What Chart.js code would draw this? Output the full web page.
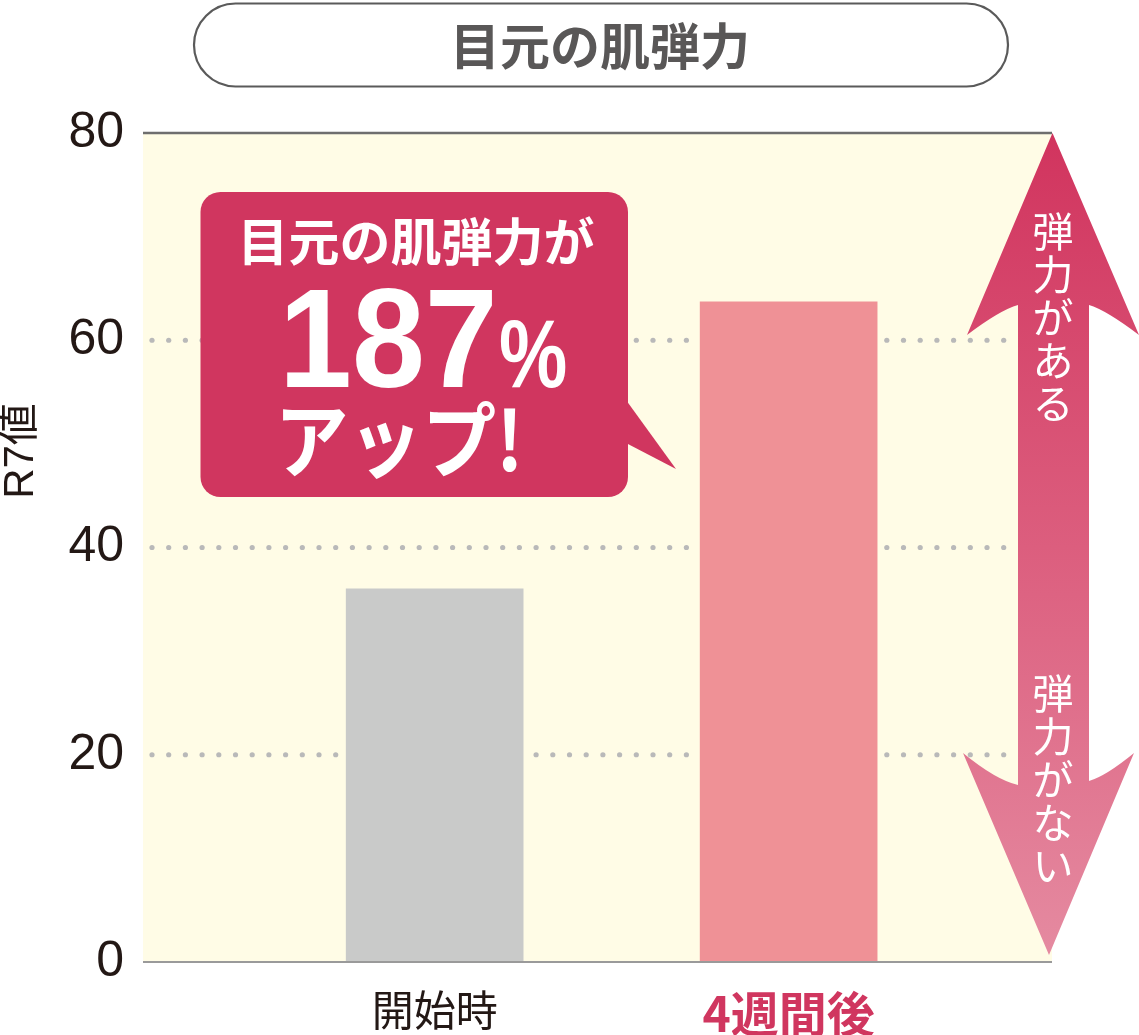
<!DOCTYPE html>
<html lang="ja">
<head>
<meta charset="utf-8">
<title>目元の肌弾力</title>
<script src="https://cdn.jsdelivr.net/npm/chart.js@4.4.1/dist/chart.umd.min.js"></script>
<style>
    html, body { margin: 0; padding: 0; background: #fff; }
    #wrap { width: 1139px; height: 1035px; }
</style>
</head>
<body>
<div id="wrap"><canvas id="elasticityChart" width="1139" height="1035"></canvas></div>
<script>
// chart data
var categories = ['開始時', '4週間後'];
var categoryPos = [1, 2];
var r7Values = [36, 63.7];
var yTicks = [0, 20, 40, 60, 80];
var chartTitle = '目元の肌弾力';
var yAxisTitle = 'R7値';
var calloutText = ['目元の肌弾力が', '187', '%', 'アップ!'];
var arrowUpText = '弾力がある';
var arrowDownText = '弾力がない';

var JP = '"Noto Sans CJK JP", sans-serif';
var NUM = '"Liberation Sans", "Noto Sans CJK JP", sans-serif';
var CRIMSON = '#d0365f';

function drawVertical(ctx, text, x, y0, step) {
    for (var i = 0; i < text.length; i++) {
        ctx.fillText(text[i], x, y0 + i * step);
    }
}

var decor = {
    id: 'decor',
    beforeDatasetsDraw: function (chart) {
        var ctx = chart.ctx;
        var a = chart.chartArea;
        var y = chart.scales.y;
        ctx.save();
        ctx.fillStyle = '#fffce6';
        ctx.fillRect(a.left, a.top, a.right - a.left, a.bottom - a.top);

        // dotted grid
        ctx.fillStyle = '#b9b9b9';
        yTicks.forEach(function (t) {
            if (t === yTicks[0] || t === yTicks[yTicks.length - 1]) return;
            var py = y.getPixelForValue(t);
            for (var px = a.left + 9; px < a.right - 36; px += 16.7) {
                ctx.beginPath();
                ctx.arc(px, py, 2.6, 0, Math.PI * 2);
                ctx.fill();
            }
        });

        ctx.strokeStyle = '#6e6e6e';
        ctx.lineWidth = 2.5;
        ctx.beginPath();
        ctx.moveTo(a.left, y.getPixelForValue(80));
        ctx.lineTo(a.right, y.getPixelForValue(80));
        ctx.stroke();
        ctx.restore();
    },
    afterDatasetsDraw: function (chart) {
        var ctx = chart.ctx;
        var a = chart.chartArea;
        var y = chart.scales.y;
        ctx.save();

        // baseline
        ctx.strokeStyle = '#9a9a9a';
        ctx.lineWidth = 2;
        ctx.beginPath();
        ctx.moveTo(a.left, y.getPixelForValue(0));
        ctx.lineTo(a.right, y.getPixelForValue(0));
        ctx.stroke();

        // callout bubble
        ctx.fillStyle = CRIMSON;
        ctx.beginPath();
        ctx.roundRect(200.5, 192, 427.5, 305, 20);
        ctx.fill();
        ctx.beginPath();
        ctx.moveTo(626, 400);
        ctx.lineTo(676, 469);
        ctx.lineTo(626, 443);
        ctx.closePath();
        ctx.fill();

        ctx.fillStyle = '#fff';
        ctx.textAlign = 'center';
        ctx.textBaseline = 'middle';
        ctx.font = 'bold 51px ' + JP;
        ctx.fillText(calloutText[0], 416, 242);

        ctx.textAlign = 'left';
        ctx.textBaseline = 'alphabetic';
        ctx.save();
        ctx.translate(279, 387);
        ctx.scale(0.93, 1);
        ctx.font = 'bold 141px ' + NUM;
        ctx.fillText(calloutText[1], 0, 0);
        ctx.restore();
        ctx.save();
        ctx.translate(499, 387);
        ctx.scale(0.8, 1);
        ctx.font = 'bold 96px ' + NUM;
        ctx.fillText(calloutText[2], 0, 0);
        ctx.restore();

        ctx.save();
        ctx.translate(399, 440);
        ctx.scale(0.9, 1);
        ctx.textAlign = 'center';
        ctx.textBaseline = 'middle';
        ctx.font = 'bold 82px ' + JP;
        ctx.fillText(calloutText[3], 0, 0);
        ctx.restore();

        // double arrow
        var g = ctx.createLinearGradient(0, a.top, 0, a.bottom);
        g.addColorStop(0, '#d1345e');
        g.addColorStop(0.5, '#dc5e7e');
        g.addColorStop(1, '#e58ba1');
        ctx.fillStyle = g;
        ctx.beginPath();
        ctx.moveTo(1052.5, a.top);
        ctx.lineTo(1139, 335);
        ctx.quadraticCurveTo(1106, 310, 1089, 305);
        ctx.lineTo(1089, 781);
        ctx.quadraticCurveTo(1106, 776, 1134, 753);
        ctx.lineTo(1049, 955);
        ctx.lineTo(963, 753);
        ctx.quadraticCurveTo(996, 780, 1018, 785);
        ctx.lineTo(1018, 305);
        ctx.quadraticCurveTo(1000, 310, 967, 335);
        ctx.closePath();
        ctx.fill();

        ctx.fillStyle = '#fff';
        ctx.textAlign = 'center';
        ctx.textBaseline = 'middle';
        ctx.font = '41px ' + JP;
        drawVertical(ctx, arrowUpText, 1053, 231, 43);
        drawVertical(ctx, arrowDownText, 1053, 693, 43);

        // title pill
        ctx.fillStyle = '#fff';
        ctx.strokeStyle = '#5a5a5a';
        ctx.lineWidth = 2.2;
        ctx.beginPath();
        ctx.roundRect(194, 3.5, 814, 83, 41.5);
        ctx.fill();
        ctx.stroke();
        ctx.fillStyle = '#595757';
        ctx.font = 'bold 50px ' + JP;
        ctx.fillText(chartTitle, 600, 46);

        // y axis title
        ctx.translate(21, 451);
        ctx.rotate(-Math.PI / 2);
        ctx.fillStyle = '#231815';
        ctx.font = '42px ' + NUM;
        ctx.fillText(yAxisTitle, 0, 0);
        ctx.restore();
    }
};

new Chart(document.getElementById('elasticityChart'), {
    type: 'bar',
    data: {
        datasets: [{
            data: categoryPos.map(function (p, i) { return { x: p, y: r7Values[i] }; }),
            backgroundColor: ['#c9cac9', '#ef9196'],
            borderWidth: 0,
            barThickness: 177
        }]
    },
    options: {
        responsive: false,
        animation: false,
        layout: { padding: { top: 133, right: 87, left: 0, bottom: 0 } },
        plugins: {
            legend: { display: false },
            tooltip: { enabled: false }
        },
        scales: {
            x: {
                type: 'linear',
                min: 0.176,
                max: 2.744,
                offset: false,
                grid: { display: false },
                border: { display: false },
                afterBuildTicks: function (scale) {
                    scale.ticks = categoryPos.map(function (p) { return { value: p }; });
                },
                afterFit: function (scale) { scale.height = 73; },
                ticks: {
                    padding: 15,
                    callback: function (value) { return categories[categoryPos.indexOf(value)]; },
                    color: function (c) { return c.index === 1 ? CRIMSON : '#231815'; },
                    font: function (c) {
                        return c.index === 1
                            ? { family: JP, size: 48, weight: 'bold' }
                            : { family: JP, size: 42, weight: 'normal' };
                    }
                }
            },
            y: {
                min: 0,
                max: 80,
                grid: { display: false },
                border: { display: false },
                afterBuildTicks: function (scale) {
                    scale.ticks = yTicks.map(function (t) { return { value: t }; });
                },
                afterFit: function (scale) { scale.width = 143; },
                ticks: {
                    padding: 11,
                    color: '#231815',
                    font: { family: NUM, size: 50 }
                }
            }
        }
    },
    plugins: [decor]
});
</script>
</body>
</html>
